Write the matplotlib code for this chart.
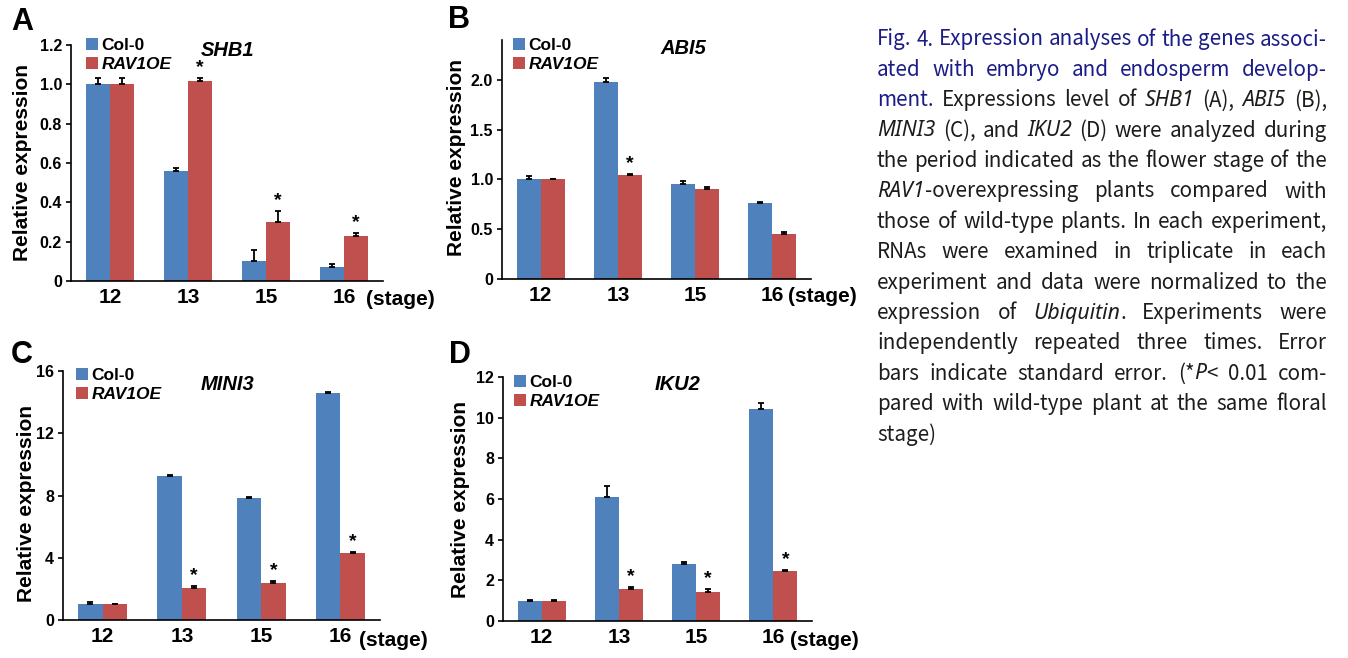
import matplotlib
matplotlib.use("Agg")
import matplotlib.pyplot as plt
import numpy as np

# ---------------- data ----------------
stages = ["12", "13", "15", "16"]
series_names = ["Col-0", "RAV1OE"]

shb1_col = [1.00, 0.56, 0.10, 0.07]
shb1_col_err = [0.03, 0.015, 0.06, 0.015]
shb1_rav = [1.00, 1.015, 0.30, 0.23]
shb1_rav_err = [0.03, 0.015, 0.055, 0.015]
shb1_star = [False, True, True, True]

abi5_col = [1.00, 1.975, 0.953, 0.763]
abi5_col_err = [0.03, 0.04, 0.03, 0.01]
abi5_rav = [1.00, 1.043, 0.903, 0.447]
abi5_rav_err = [0.005, 0.01, 0.02, 0.02]
abi5_star = [False, True, False, False]

mini3_col = [1.0, 9.26, 7.87, 14.6]
mini3_col_err = [0.15, 0.05, 0.05, 0.03]
mini3_rav = [1.0, 2.07, 2.37, 4.28]
mini3_rav_err = [0.05, 0.1, 0.15, 0.1]
mini3_star = [False, True, True, True]

iku2_col = [1.0, 6.12, 2.78, 10.42]
iku2_col_err = [0.03, 0.54, 0.1, 0.3]
iku2_rav = [1.0, 1.58, 1.43, 2.45]
iku2_rav_err = [0.05, 0.1, 0.15, 0.05]
iku2_star = [False, True, True, True]

genes = ["SHB1", "ABI5", "MINI3", "IKU2"]
letters = ["A", "B", "C", "D"]
yticks_list = [[0, 0.2, 0.4, 0.6, 0.8, 1.0, 1.2],
               [0, 0.5, 1.0, 1.5, 2.0],
               [0, 4, 8, 12, 16],
               [0, 2, 4, 6, 8, 10, 12]]
yticklabels_list = [["0", "0.2", "0.4", "0.6", "0.8", "1.0", "1.2"],
                    ["0", "0.5", "1.0", "1.5", "2.0"],
                    ["0", "4", "8", "12", "16"],
                    ["0", "2", "4", "6", "8", "10", "12"]]
ylims = [1.2, 2.4, 16, 12]

caption_lines = [
    "~Fig. 4. Expression analyses of the genes associ-~",
    "~ated with embryo and endosperm develop-~",
    "~ment.~ Expressions level of _SHB1_ (A), _ABI5_ (B),",
    "_MINI3_ (C), and _IKU2_ (D) were analyzed during",
    "the period indicated as the flower stage of the",
    "_RAV1_-overexpressing plants compared with",
    "those of wild-type plants. In each experiment,",
    "RNAs were examined in triplicate in each",
    "experiment and data were normalized to the",
    "expression of _Ubiquitin_. Experiments were",
    "independently repeated three times. Error",
    "bars indicate standard error. (*_P_< 0.01 com-",
    "pared with wild-type plant at the same floral",
    "stage)",
]

# ---------------- figure ----------------
W, H = 1348, 658
fig = plt.figure(figsize=(W / 100, H / 100), dpi=100)
fig.patch.set_facecolor("white")

BLUE = "#4F81BD"
RED = "#C0504D"
FONT = "Liberation Sans"

def px_rect(l, r, t, b):
    return [l / W, 1 - b / H, (r - l) / W, (b - t) / H]

rects = [px_rect(71, 383, 45, 281), px_rect(502, 811, 40, 279),
         px_rect(63, 380, 371, 620), px_rect(503, 812, 377, 621)]
col_data = [(shb1_col, shb1_col_err), (abi5_col, abi5_col_err),
            (mini3_col, mini3_col_err), (iku2_col, iku2_col_err)]
rav_data = [(shb1_rav, shb1_rav_err), (abi5_rav, abi5_rav_err),
            (mini3_rav, mini3_rav_err), (iku2_rav, iku2_rav_err)]
stars = [shb1_star, abi5_star, mini3_star, iku2_star]
gene_pos = [(228, 50), (683, 48), (228, 385), (678, 384)]
letter_pos = [(22, 22), (459, 20), (22, 355), (460, 355)]
ylabel_pos = [(22, 163), (457, 157), (27, 503), (461, 500)]
stage_pos = [(366, 299), (788, 297), (359, 640), (790, 640)]
legend_pos = [(86, 38), (513, 38), (76, 368), (514, 375)]

w = 0.31
for i in range(4):
    ax = fig.add_axes(rects[i])
    x = np.arange(len(stages))
    cv, ce = col_data[i]
    rv, re_ = rav_data[i]
    ekw = dict(ecolor="black", elinewidth=1.3, capsize=2.2, capthick=1.3)
    ax.bar(x - w / 2, cv, w, color=BLUE, label=series_names[0],
           yerr=[np.zeros(4), ce], error_kw=ekw)
    ax.bar(x + w / 2, rv, w, color=RED, label=series_names[1],
           yerr=[np.zeros(4), re_], error_kw=ekw)
    ymax = ylims[i]
    for j in range(4):
        if stars[i][j]:
            ax.text(x[j] + w / 2, rv[j] + re_[j] + ymax * 0.008, "*",
                    ha="center", va="bottom", fontsize=14, fontweight="bold",
                    family=FONT)
    ax.set_xlim(-0.5, 3.5)
    ax.set_ylim(0, ymax)
    ax.set_yticks(yticks_list[i])
    ax.set_yticklabels(yticklabels_list[i], fontsize=11.5, fontweight="bold",
                       family=FONT)
    ax.set_xticks(x)
    ax.set_xticklabels(stages, fontsize=15, fontweight="bold", family=FONT)
    ax.tick_params(axis="x", length=0, pad=5)
    ax.tick_params(axis="y", length=3.5, width=1.2, pad=3, direction="out")
    for s in ["top", "right"]:
        ax.spines[s].set_visible(False)
    for s in ["left", "bottom"]:
        ax.spines[s].set_linewidth(1.2)
    ax.set_facecolor("white")
    leg = ax.legend(loc="upper left",
                    bbox_to_anchor=(legend_pos[i][0] / W, 1 - legend_pos[i][1] / H),
                    bbox_transform=fig.transFigure,
                    frameon=False, handlelength=0.7, handleheight=0.7,
                    handletextpad=0.2, labelspacing=0.2, borderpad=0,
                    prop=dict(family=FONT, weight="bold", size=12.5),
                    borderaxespad=0)
    leg.get_texts()[1].set_style("italic")
    fig.text(gene_pos[i][0] / W, 1 - gene_pos[i][1] / H, genes[i],
             ha="center", va="center", fontsize=14.5, fontweight="bold",
             style="italic", family=FONT)
    fig.text(letter_pos[i][0] / W, 1 - letter_pos[i][1] / H, letters[i],
             ha="center", va="center", fontsize=22, fontweight="bold",
             family=FONT)
    fig.text(ylabel_pos[i][0] / W, 1 - ylabel_pos[i][1] / H,
             "Relative expression", rotation=90, ha="center", va="center",
             fontsize=15, fontweight="bold", family=FONT)
    fig.text(stage_pos[i][0] / W, 1 - stage_pos[i][1] / H, "(stage)",
             ha="left", va="center", fontsize=15, fontweight="bold",
             family=FONT)

# ---------------- caption (justified) ----------------
CAP_FONT = ["Noto Sans CJK KR", "DejaVu Sans"]
CAP_FONT_IT = ["Noto Sans", "DejaVu Sans"]
CAP_BLUE = "#1A1C88"
CAP_TEXT = "#1E1B1C"
cap_left, cap_right = 877, 1327
cap_top, cap_step = 37, 30.4
renderer = fig.canvas.get_renderer()


def parse_word(word, state):
    pieces = []
    buf = ""
    for ch in word:
        if ch in "_~":
            if buf:
                pieces.append((buf, dict(state)))
                buf = ""
            key = "italic" if ch == "_" else "blue"
            state[key] = not state[key]
        else:
            buf += ch
    if buf:
        pieces.append((buf, dict(state)))
    return pieces


def make_text(s, st, size):
    if st["italic"]:
        return fig.text(0, 0, s, fontsize=size * 1.03, family=CAP_FONT_IT,
                        style="italic",
                        color=CAP_BLUE if st["blue"] else CAP_TEXT,
                        ha="left", va="center_baseline")
    return fig.text(0, 0, s, fontsize=size, family=CAP_FONT,
                    color=CAP_BLUE if st["blue"] else CAP_TEXT,
                    ha="left", va="center_baseline")


def layout(size, draw):
    state = {"italic": False, "blue": False}
    maxnat = 0
    for li, line in enumerate(caption_lines):
        words = [parse_word(wd, state) for wd in line.split(" ")]
        word_objs = []
        widths = []
        for pieces in words:
            objs = []
            tw = 0
            for s, st in pieces:
                t = make_text(s, st, size)
                bb = t.get_window_extent(renderer)
                objs.append((t, bb.width))
                tw += bb.width
            word_objs.append(objs)
            widths.append(tw)
        sp = make_text(" ", {"italic": False, "blue": False}, size)
        spw = sp.get_window_extent(renderer).width
        sp.remove()
        nat = sum(widths) + spw * (len(widths) - 1)
        maxnat = max(maxnat, nat)
        if draw:
            last = li == len(caption_lines) - 1
            if last or len(widths) == 1:
                gap = spw
            else:
                gap = (cap_right - cap_left - sum(widths)) / (len(widths) - 1)
            xcur = cap_left
            y = cap_top + li * cap_step
            for objs, wdt in zip(word_objs, widths):
                xx = xcur
                for t, tw in objs:
                    t.set_position((xx / W, 1 - y / H))
                    xx += tw
                xcur += wdt + gap
        else:
            for objs in word_objs:
                for t, _ in objs:
                    t.remove()
    return maxnat


base = 16
nat = layout(base, False)
size = base * min(1.0, (cap_right - cap_left) / nat * 0.99)
layout(size, True)

fig.savefig("out.png", dpi=100, facecolor="white")
